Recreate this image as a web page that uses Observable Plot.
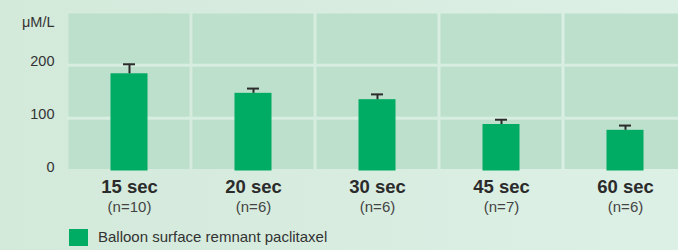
<!DOCTYPE html>
<html>
<head>
<meta charset="utf-8">
<script src="https://cdn.jsdelivr.net/npm/d3@7"></script>
<script src="https://cdn.jsdelivr.net/npm/@observablehq/plot@0.6"></script>
<style>
  html, body { margin: 0; padding: 0; }
  body {
    width: 678px; height: 250px; overflow: hidden;
    background: linear-gradient(90deg, #d3e9da 0%, #d8ede0 55%, #ddf0e6 100%);
    font-family: "Liberation Sans", Arial, sans-serif;
    color: #333;
  }
  #chart svg { display: block; background: transparent; }
  .legend { position: relative; height: 30px; }
  .legend .sw { position: absolute; left: 69px; top: 9px; width: 19px; height: 17px; background: #00ab63; }
  .legend .lb { position: absolute; left: 98px; top: 7px; font-size: 15px; line-height: 20px; color: #333; }
</style>
</head>
<body>
<div id="chart"></div>
<div class="legend"><div class="sw"></div><div class="lb">Balloon surface remnant paclitaxel</div></div>
<script>
const categories = ["15 sec", "20 sec", "30 sec", "45 sec", "60 sec"];
const nLabels = ["(n=10)", "(n=6)", "(n=6)", "(n=7)", "(n=6)"];
const means = [184, 147, 135, 88, 77];
const errors = [18, 9, 10, 9, 9];
const yTicks = [0, 100, 200];
const unitLabel = "μM/L";

const data = categories.map((c, i) => ({cat: c, n: nLabels[i], mean: means[i], err: errors[i]}));

const plot = Plot.plot({
  width: 678,
  height: 220,
  marginLeft: 67,
  marginRight: 0,
  marginTop: 12,
  marginBottom: 49.5,
  style: {background: "transparent", fontFamily: "'Liberation Sans', Arial, sans-serif", fontSize: "14.5px", color: "#333", overflow: "visible"},
  x: {domain: categories, range: [66.5, 686.5], padding: 0, axis: null},
  y: {domain: [0, 300], range: [170.5, 12], axis: null},
  marks: [
    Plot.barY(categories, {x: d => d, y1: 0, y2: 300, fill: "#bce0cb", inset: 1.5}),
    Plot.ruleY([100, 200], {stroke: "#d6ede0", strokeWidth: 3}),
    Plot.barY(data, {x: "cat", y: "mean", fill: "#00ab63", insetLeft: 43.5, insetRight: 43.5}),
    Plot.ruleX(data, {x: "cat", y1: "mean", y2: d => d.mean + d.err, stroke: "#2b2b2b", strokeWidth: 2}),
    Plot.tickY(data, {x: "cat", y: d => d.mean + d.err, stroke: "#2b2b2b", strokeWidth: 2, insetLeft: 56, insetRight: 56}),
    Plot.text(yTicks, {frameAnchor: "left", y: d => d, text: d => String(d), dx: -13, dy: -4, textAnchor: "end", fontSize: 14.5, fill: "#333"}),
    Plot.text([unitLabel], {frameAnchor: "left", y: 282, dx: -13, textAnchor: "end", fontSize: 14.5, fill: "#333"}),
    Plot.text(data, {x: "cat", y: 0, text: "cat", dy: 16.5, fontSize: 18.5, fontWeight: "bold", fill: "#2b2b2b", lineAnchor: "middle"}),
    Plot.text(data, {x: "cat", y: 0, text: "n", dy: 36, fontSize: 15, fill: "#444", lineAnchor: "middle"})
  ]
});
document.getElementById("chart").appendChild(plot);
</script>
</body>
</html>
